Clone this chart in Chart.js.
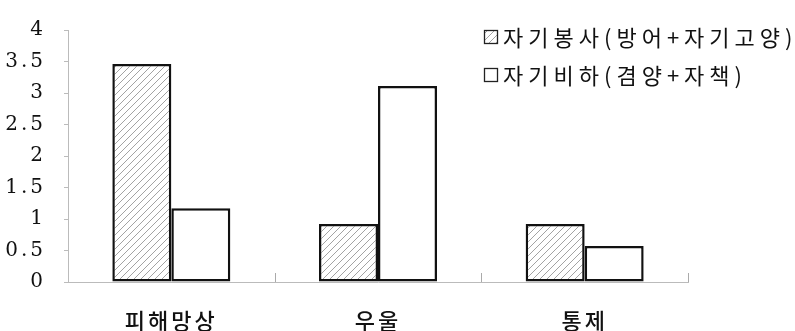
<!DOCTYPE html>
<html>
<head>
<meta charset="utf-8">
<script src="https://cdn.jsdelivr.net/npm/chart.js@4/dist/chart.umd.min.js"></script>
<style>
  html, body { margin: 0; padding: 0; background: #fff; }
  canvas { display: block; }
</style>
</head>
<body>
<canvas id="c" width="795" height="331"></canvas>
<script>
// Categories and the two series
const categories = ['피해망상', '우울', '통제'];
const seriesNames = ['자기봉사(방어+자기고양)', '자기비하(겸양+자책)'];
const selfServing = [3.46, 0.92, 0.92];
const selfDeprecating = [1.17, 3.11, 0.57];

// Diagonal hatch fill
function makeHatch() {
  const size = 7;
  const p = document.createElement('canvas');
  p.width = size; p.height = size;
  const g = p.getContext('2d');
  g.fillStyle = '#fff';
  g.fillRect(0, 0, size, size);
  g.strokeStyle = '#999';
  g.lineWidth = 0.9;
  g.beginPath();
  g.moveTo(0, size); g.lineTo(size, 0);
  g.moveTo(-1, 1); g.lineTo(1, -1);
  g.moveTo(size - 1, size + 1); g.lineTo(size + 1, size - 1);
  g.stroke();
  return document.getElementById('c').getContext('2d').createPattern(p, 'repeat');
}
const hatch = makeHatch();

const SERIF = '"DejaVu Serif", "Liberation Serif", serif';
const HANGUL = '"Noto Sans CJK KR", sans-serif';

// Letter spacing for axis text, reset before bars are drawn
const spacing = {
  id: 'spacing',
  beforeDraw(chart) { chart.ctx.letterSpacing = '3px'; },
  beforeDatasetsDraw(chart) { chart.ctx.letterSpacing = '0px'; }
};

// Short upright marks at category boundaries on the baseline
const boundaryTicks = {
  id: 'boundaryTicks',
  afterDatasetsDraw(chart) {
    const x = chart.scales.x, area = chart.chartArea, ctx = chart.ctx;
    ctx.save();
    ctx.strokeStyle = '#aaa';
    ctx.lineWidth = 1;
    for (let i = 0; i < categories.length; i++) {
      const px = Math.round(x.getPixelForValue(i + 0.5)) + 0.5;
      ctx.beginPath();
      ctx.moveTo(px, area.bottom - 9);
      ctx.lineTo(px, area.bottom);
      ctx.stroke();
    }
    ctx.restore();
  }
};

// Legend in the upper right
const boxLegend = {
  id: 'boxLegend',
  afterDraw(chart) {
    const ctx = chart.ctx;
    ctx.save();
    ctx.letterSpacing = '5px';
    ctx.font = '22px ' + HANGUL;
    ctx.textBaseline = 'middle';
    ctx.textAlign = 'left';
    chart.data.datasets.forEach((ds, i) => {
      const cy = 37 + i * 38;
      ctx.fillStyle = ds.backgroundColor;
      ctx.fillRect(484, cy - 7, 13, 13);
      ctx.strokeStyle = '#222';
      ctx.lineWidth = 1.3;
      ctx.strokeRect(484.5, cy - 6.5, 13, 13);
      ctx.fillStyle = '#111';
      ctx.fillText(ds.label, 503, cy + 1);
    });
    ctx.restore();
  }
};

new Chart(document.getElementById('c'), {
  type: 'bar',
  data: {
    labels: categories,
    datasets: [
      {
        label: seriesNames[0],
        data: selfServing,
        backgroundColor: hatch,
        borderColor: '#111',
        borderWidth: 2.5,
        borderSkipped: false
      },
      {
        label: seriesNames[1],
        data: selfDeprecating,
        backgroundColor: '#fff',
        borderColor: '#111',
        borderWidth: 2.5,
        borderSkipped: false
      }
    ]
  },
  options: {
    responsive: false,
    devicePixelRatio: 1,
    animation: false,
    layout: { padding: { top: 18, right: 107, bottom: 0, left: 0 } },
    datasets: { bar: { categoryPercentage: 0.571, barPercentage: 1 } },
    plugins: {
      legend: { display: false },
      tooltip: { enabled: false }
    },
    scales: {
      x: {
        afterFit(scale) { scale.height = 49; },
        border: { display: true, color: '#bbb', dash: [2, 2], width: 1 },
        grid: { display: false },
        ticks: {
          color: '#111',
          font: { family: HANGUL, size: 22, weight: '500' },
          padding: 17
        }
      },
      y: {
        min: 0,
        max: 4,
        afterFit(scale) { scale.width = 68; },
        border: { display: true, color: '#bbb', dash: [2, 2], width: 1 },
        grid: { drawOnChartArea: false, drawTicks: true, tickLength: 4, color: '#bbb' },
        ticks: {
          stepSize: 0.5,
          color: '#111',
          font: { family: SERIF, size: 20 },
          padding: 18,
          callback: (v) => String(v)
        }
      }
    }
  },
  plugins: [spacing, boundaryTicks, boxLegend]
});
</script>
</body>
</html>
